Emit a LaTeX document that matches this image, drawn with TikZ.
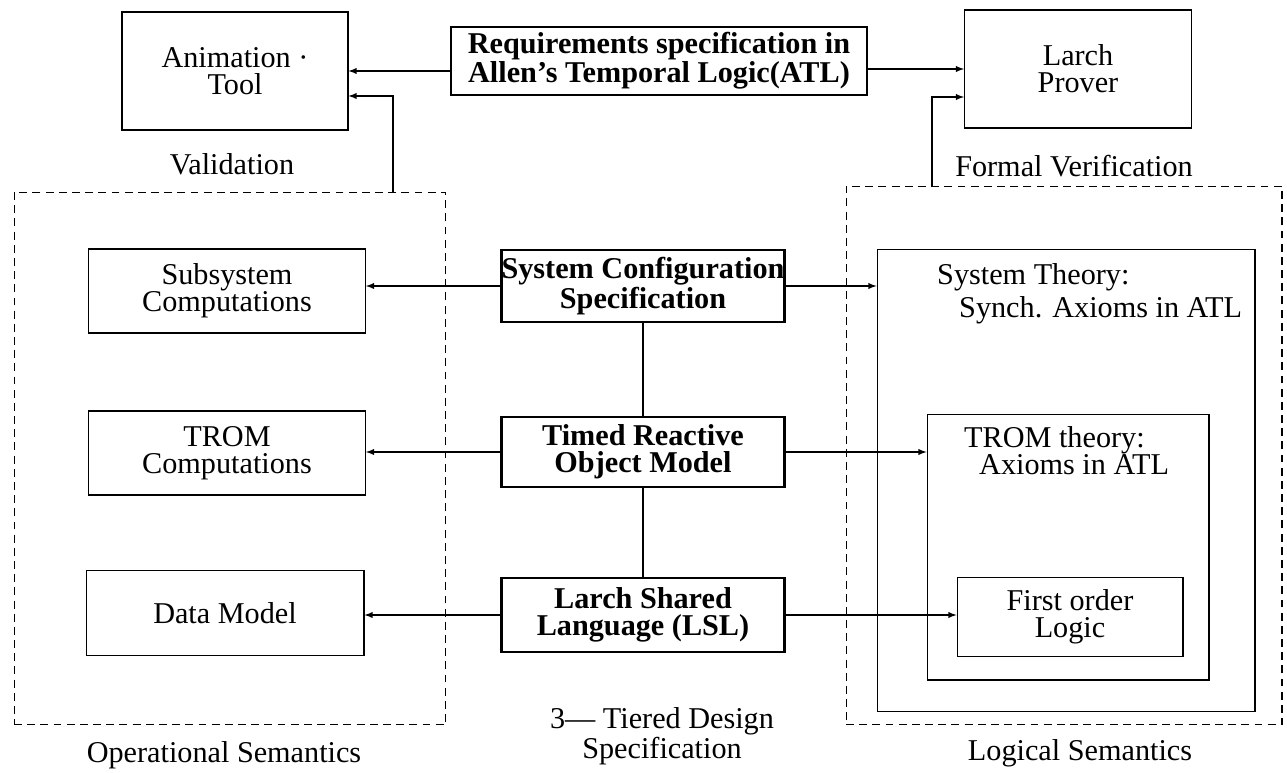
\documentclass[tikz,border=0pt]{standalone}
\usepackage{fontspec}
\setmainfont{Liberation Serif}
\usetikzlibrary{positioning}

\begin{document}
\begin{tikzpicture}[>=latex, x=0.02cm, y=-0.02cm,
  every node/.style={font=\fontsize{17.2}{15.5}\selectfont},
  box/.style={draw, line width=0.6pt, align=center, inner sep=0pt},
  tierbox/.style={box, line width=1.6pt, font=\fontsize{17.2}{15.5}\selectfont\bfseries},
  semzone/.style={draw, dash pattern=on 4.5pt off 3pt, line width=0.6pt, inner sep=0pt},
  link/.style={->, line width=0.6pt},
  tierlink/.style={line width=1.6pt}]
  \useasboundingbox (0,0) rectangle (1287,773);

  % top row
  \node[box, minimum width=4.52cm, minimum height=2.36cm] (anim) at (235,71) {Animation ·\\Tool};
  \node[tierbox, minimum width=8.32cm, minimum height=1.36cm] (req) at (659,61) {Requirements specification in\\Allen's Temporal Logic(ATL)};
  \node[box, minimum width=4.54cm, minimum height=2.36cm] (larch) at (1078,69) {Larch\\Prover};
  \node (valid) at (232,164) {Validation};
  \node (fverif) at (1074,166) {Formal Verification};

  % dashed zones
  \node[semzone, minimum width=8.64cm, minimum height=10.66cm] (opsem) at (230,458.5) {};
  \node[semzone, minimum width=8.72cm, minimum height=10.78cm] (logsem) at (1064,455.5) {};

  % three tiers
  \node[tierbox, minimum width=5.66cm, minimum height=1.44cm] (syscfg) at (643,286) {System Configuration\\Specification};
  \node[tierbox, minimum width=5.66cm, minimum height=1.40cm] (trom) at (643,452) {Timed Reactive\\Object Model};
  \node[tierbox, minimum width=5.66cm, minimum height=1.48cm] (lsl) at (643,615) {Larch Shared\\Language (LSL)};

  % operational side
  \node[box, minimum width=5.54cm, minimum height=1.68cm] (subsys) at (227,291) {Subsystem\\Computations};
  \node[box, minimum width=5.54cm, minimum height=1.68cm] (tromc) at (227,453) {TROM\\Computations};
  \node[box, minimum width=5.56cm, minimum height=1.70cm] (data) at (225,613) {Data Model};

  % logical side
  \node[box, minimum width=7.56cm, minimum height=9.26cm] (systhy) at (1066,480.5) {};
  \node[box, minimum width=5.64cm, minimum height=5.32cm] (tromthy) at (1068,547) {};
  \node[box, minimum width=4.52cm, minimum height=1.58cm] (fol) at (1070,617) {First order\\Logic};
  \node[anchor=west] (sthead) at (931,277) {System Theory:};
  \node[anchor=west] (stbody) at (953,310) {Synch. Axioms in ATL};
  \node[anchor=west] (tthead) at (958,440) {TROM theory:};
  \node[anchor=west] (ttbody) at (973,465) {Axioms in ATL};

  % captions
  \node (opcap) at (224,755) {Operational Semantics};
  \node (logcap) at (1080,753) {Logical Semantics};
  \node[align=center] (tiercap) at (662,736) {3— Tiered Design\\Specification};

  % connectors
  \draw[link] (req.west |- anim.east) -- (anim.east);
  \draw[link] (req.east |- larch.west) -- (larch.west);
  \draw[link] (opsem.north -| 393,0) |- (anim.east |- 0,96);
  \draw[link] (logsem.north -| 932,0) |- (larch.west |- 0,97);
  \draw[tierlink] (syscfg) -- (trom) -- (lsl);
  \draw[link] (syscfg.west) -- (subsys.east |- syscfg.west);
  \draw[link] (syscfg.east) -- (systhy.west |- syscfg.east);
  \draw[link] (trom.west) -- (tromc.east |- trom.west);
  \draw[link] (trom.east) -- (tromthy.west |- trom.east);
  \draw[link] (lsl.west) -- (data.east |- lsl.west);
  \draw[link] (lsl.east) -- (fol.west |- lsl.east);
\end{tikzpicture}
\end{document}
